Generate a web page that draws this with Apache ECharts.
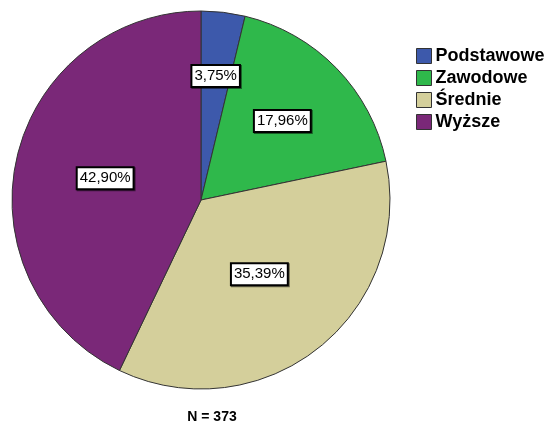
<!DOCTYPE html>
<html>
<head>
<meta charset="utf-8">
<script src="https://cdn.jsdelivr.net/npm/echarts@6/dist/echarts.min.js"></script>
<style>
  html, body { margin: 0; padding: 0; background: #fff; }
  #chart { width: 545px; height: 424px; }
</style>
</head>
<body>
<div id="chart"></div>
<script>
// dane z wykresu
var categories = ["Podstawowe", "Zawodowe", "Średnie", "Wyższe"];
var percents = [3.75, 17.96, 35.39, 42.90];
var sampleSize = 373;

var colors = ["#3d59ab", "#2fb84b", "#d4cf9b", "#7a2878"];
// jak daleko od srodka stoi etykieta (ulamek promienia)
var labelRadius = [0.66, 0.6, 0.5, 0.52];

var cx = 201, cy = 200, r = 189;

var chart = echarts.init(document.getElementById("chart"));

var pieData = categories.map(function (name, i) {
  return { name: name, value: percents[i], itemStyle: { color: colors[i] } };
});

chart.setOption({
  animation: false,
  textStyle: { fontFamily: "Liberation Sans, Arial, sans-serif" },
  legend: {
    orient: "vertical",
    left: 416,
    top: 47,
    padding: 0,
    itemWidth: 15,
    itemHeight: 15,
    itemGap: 4,
    icon: "rect",
    itemStyle: { borderColor: "#333", borderWidth: 1 },
    textStyle: {
      fontSize: 18,
      fontWeight: "bold",
      color: "#000",
      lineHeight: 18,
      padding: [0, 0, 0, -1]
    },
    data: categories
  },
  title: {
    text: "N = " + sampleSize,
    left: 212,
    textAlign: "center",
    top: 410,
    padding: 0,
    textStyle: { fontSize: 14, fontWeight: "bold", color: "#000" }
  },
  series: [
    {
      type: "pie",
      center: [cx, cy],
      radius: r,
      startAngle: 90,
      clockwise: true,
      itemStyle: { borderColor: "#333", borderWidth: 1 },
      emphasis: { disabled: true },
      label: {
        show: true,
        position: "inside",
        formatter: function (p) {
          return p.value.toFixed(2).replace(".", ",") + "%";
        },
        color: "#000",
        fontSize: 15,
        backgroundColor: "#fff",
        borderColor: "#000",
        borderWidth: 2,
        padding: [3, 2, 2, 2],
        shadowColor: "rgba(0,0,0,0.5)",
        shadowOffsetX: 1,
        shadowOffsetY: 1
      },
      labelLayout: function (params) {
        var i = params.dataIndex;
        var rect = params.labelRect;
        var lx = rect.x + rect.width / 2;
        var ly = rect.y + rect.height / 2;
        var dx = lx - cx, dy = ly - cy;
        var d = Math.sqrt(dx * dx + dy * dy) || 1;
        var k = (labelRadius[i] * r) / d;
        return { dx: dx * k - dx, dy: dy * k - dy };
      },
      data: pieData
    }
  ]
});
</script>
</body>
</html>
